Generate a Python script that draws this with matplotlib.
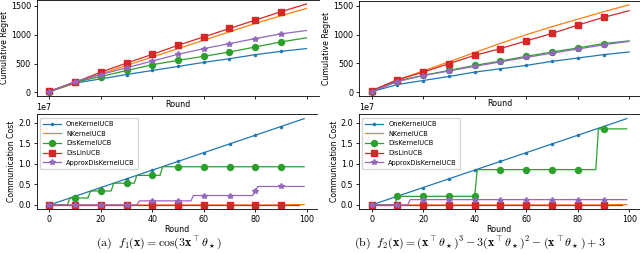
import matplotlib.pyplot as plt

plt.rcParams['mathtext.fontset'] = 'cm'

labels = ['OneKernelUCB', 'NKernelUCB', 'DisKernelUCB', 'DisLinUCB', 'ApproxDisKernelUCB']
colors = ['C0', 'C1', 'C2', 'C3', 'C4']
markers = ['.', None, 'o', 's', '*']
msizes = [3, 0, 4.3, 4.2, 4.2]

# cumulative regret, read every 100 rounds
reg_rounds = [0, 100, 200, 300, 400, 500, 600, 700, 800, 900, 999]
reg_a = [
    [10, 160, 233, 309, 379, 449, 520, 584, 654, 712, 760],
    [10, 165, 321, 467, 613, 759, 905, 1051, 1197, 1330, 1459],
    [10, 175, 274, 379, 479, 555, 625, 700, 788, 876, 946],
    [20, 175, 350, 508, 660, 817, 963, 1109, 1255, 1401, 1535],
    [10, 187, 309, 426, 543, 660, 759, 846, 934, 1016, 1074],
]
reg_b = [
    [10, 134, 204, 274, 350, 409, 467, 537, 595, 654, 700],
    [20, 215, 370, 530, 690, 850, 1000, 1140, 1270, 1400, 1520],
    [10, 200, 292, 379, 467, 543, 625, 700, 770, 846, 893],
    [29, 216, 350, 496, 642, 759, 893, 1022, 1168, 1302, 1418],
    [10, 185, 290, 370, 450, 528, 605, 680, 750, 825, 885],
]

# communication cost (x1e7), breakpoints
one_r = [0, 10, 20, 30, 40, 50, 60, 70, 80, 90, 99]
one_v = [0, 0.212, 0.424, 0.636, 0.848, 1.06, 1.272, 1.484, 1.696, 1.908, 2.10]
nk_r = [0, 10, 20, 30, 40, 50, 60, 70, 80, 90, 96, 99]
nk_v = [0, 0, 0, 0, 0, 0, 0, 0, 0, 0, 0.01, 0.01]
lin_r = [0, 10, 20, 30, 40, 50, 60, 70, 80, 90, 97]
lin_v = [0, 0, 0, 0, 0, 0, 0, 0, 0, 0, 0]

disk_a_r = [0, 7, 8, 10, 15, 16, 20, 24, 25, 30, 33, 34, 40, 43, 44, 50, 60, 70, 80, 90, 99]
disk_a_v = [0, 0, 0.17, 0.17, 0.17, 0.34, 0.34, 0.34, 0.53, 0.53, 0.53, 0.72, 0.72, 0.72,
            0.93, 0.93, 0.93, 0.93, 0.93, 0.93, 0.93]
appr_a_r = [0, 10, 20, 30, 34, 35, 40, 50, 55, 56, 60, 70, 79, 80, 81, 90, 99]
appr_a_v = [0, 0, 0, 0, 0, 0.1, 0.1, 0.1, 0.1, 0.23, 0.23, 0.23, 0.23, 0.34, 0.45, 0.45, 0.45]

disk_b_r = [0, 9, 10, 20, 30, 40, 41, 50, 60, 70, 80, 87, 88, 90, 99]
disk_b_v = [0, 0, 0.21, 0.21, 0.21, 0.21, 0.86, 0.86, 0.86, 0.86, 0.86, 0.86, 1.85, 1.85, 1.85]
appr_b_r = [0, 10, 14, 15, 20, 30, 40, 50, 60, 70, 80, 90, 99]
appr_b_v = [0, 0, 0, 0.13, 0.13, 0.13, 0.13, 0.13, 0.13, 0.13, 0.13, 0.13, 0.13]

comm_a = [(one_r, one_v), (nk_r, nk_v), (disk_a_r, disk_a_v), (lin_r, lin_v), (appr_a_r, appr_a_v)]
comm_b = [(one_r, one_v), (nk_r, nk_v), (disk_b_r, disk_b_v), (lin_r, lin_v), (appr_b_r, appr_b_v)]

captions = [r'$\mathrm{(a)}\ \ f_1(\mathbf{x}) = \cos(3\mathbf{x}^\top\theta_\star)$',
            r'$\mathrm{(b)}\ \ f_2(\mathbf{x}) = (\mathbf{x}^\top\theta_\star)^3 - 3(\mathbf{x}^\top\theta_\star)^2'
            r' - (\mathbf{x}^\top\theta_\star) + 3$']

W, H = 640, 254
fig = plt.figure(figsize=(6.4, 2.54), dpi=100)


def box(l, r, t, b):
    return [l / W, 1 - b / H, (r - l) / W, (b - t) / H]


pos_top = [box(36.5, 319.3, -0.4, 96.1), box(358.8, 641.9, 0.5, 96.0)]
pos_bot = [box(36.6, 316.9, 114.3, 209.3), box(358.8, 639.5, 114.3, 209.3)]

for k, (reg, comm) in enumerate([(reg_a, comm_a), (reg_b, comm_b)]):
    ax = fig.add_axes(pos_top[k])
    for i in range(5):
        ax.plot(reg_rounds, reg[i], color=colors[i], marker=markers[i], ms=msizes[i],
                lw=0.9, markevery=list(range(10)))
    ax.set_xticks([0, 200, 400, 600, 800, 1000])
    ax.tick_params(labelbottom=False, labelsize=5.8, length=2.5, width=0.6, pad=1.5)
    ax.set_yticks([0, 500, 1000, 1500])
    ax.set_xlabel('Round', fontsize=5.8, labelpad=0)
    ax.set_ylabel('Cumulative Regret', fontsize=5.6, labelpad=1.5)
    ax.spines['right'].set_visible(False)
    for s in ax.spines.values():
        s.set_linewidth(0.6)

    ax2 = fig.add_axes(pos_bot[k])
    for i in range(5):
        r, v = comm[i]
        seen = set()
        idx = []
        for j, x in enumerate(r):
            if x % 10 == 0 and x < 99 and x not in seen:
                seen.add(x)
                idx.append(j)
        ax2.plot(r, [x * 1e7 for x in v], color=colors[i], marker=markers[i], ms=msizes[i],
                 lw=0.9, markevery=idx, label=labels[i])
    ax2.set_xticks([0, 20, 40, 60, 80, 100])
    ax2.set_yticks([0, 0.5e7, 1.0e7, 1.5e7, 2.0e7])
    ax2.tick_params(labelsize=5.8, length=2.5, width=0.6, pad=1.5)
    ax2.yaxis.get_offset_text().set_fontsize(5.8)
    ax2.set_xlabel('Round', fontsize=5.8, labelpad=1)
    ax2.set_ylabel('Communication Cost', fontsize=5.6, labelpad=1.5)
    ax2.spines['right'].set_visible(False)
    for s in ax2.spines.values():
        s.set_linewidth(0.6)
    ax2.legend(loc='upper left', fontsize=4.8, handlelength=2.6, labelspacing=0.55,
               borderpad=0.5, framealpha=0.8)

fig.text(159 / W, 1 - 243 / H, captions[0], ha='center', va='center', fontsize=8.6)
fig.text(480 / W, 1 - 243 / H, captions[1], ha='center', va='center', fontsize=8.6)

fig.savefig('out.png', dpi=100)
